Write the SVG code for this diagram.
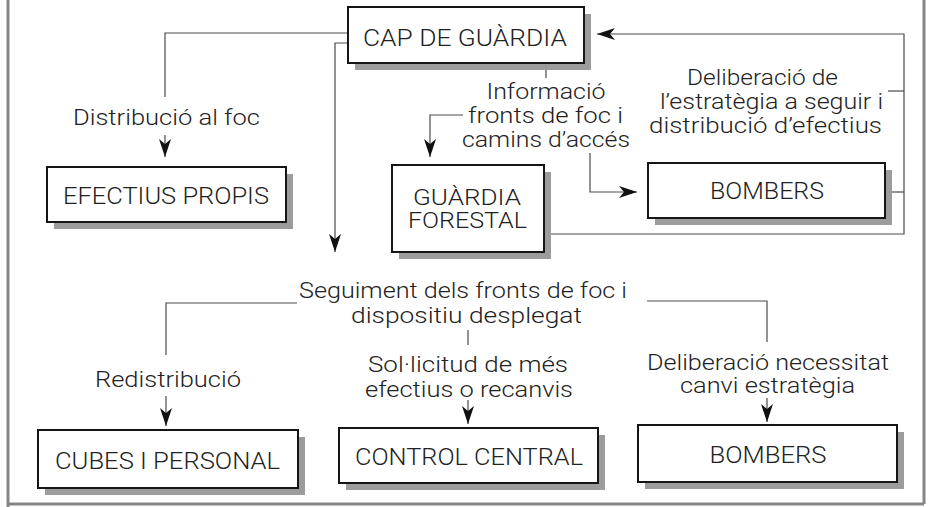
<svg xmlns="http://www.w3.org/2000/svg" width="933" height="507" viewBox="0 0 933 507">
<defs>
<style>
.frame{fill:none;stroke:#858585;stroke-width:3}
.shadow{fill:#9c9c9c}
.box{fill:#fff;stroke:#151515;stroke-width:2}
.bt{font-family:Roboto,"Liberation Sans",Arial,sans-serif;font-weight:300;font-size:23px;fill:#222;text-anchor:middle}
.lt{font-family:Roboto,"Liberation Sans",Arial,sans-serif;font-weight:300;font-size:22px;fill:#222;text-anchor:middle}
.ln{fill:none;stroke:#4a4a4a;stroke-width:1.2}
</style>
<marker id="ah" viewBox="0 0 18 12" refX="18" refY="6" markerWidth="18" markerHeight="12" markerUnits="userSpaceOnUse" orient="auto">
<path d="M0,0 L18,6 L0,12 L5,6 Z" fill="#111"/>
</marker>
</defs>
<rect width="933" height="507" fill="#fff"/>
<path class="frame" d="M8,0 V507 M924,0 V504 M8,504 H924"/>

<g id="connectors">
<path class="ln" d="M348,33 H165 V97"/>
<path class="ln" d="M165,135 V157" marker-end="url(#ah)"/>
<path class="ln" d="M348,43 H335 V252" marker-end="url(#ah)"/>
<path class="ln" d="M546,64 V78"/>
<path class="ln" d="M463,115 H430 V157" marker-end="url(#ah)"/>
<path class="ln" d="M590,153 V192 H637" marker-end="url(#ah)"/>
<path class="ln" d="M544,234 H904 V34 H597" marker-end="url(#ah)"/>
<path class="ln" d="M885,192 H904"/>
<path class="ln" d="M888,91 H904"/>
<path class="ln" d="M297,303 H166 V355"/>
<path class="ln" d="M166,396 V426" marker-end="url(#ah)"/>
<path class="ln" d="M468,330 V345"/>
<path class="ln" d="M468,400 V424" marker-end="url(#ah)"/>
<path class="ln" d="M647,301 H767 V342"/>
<path class="ln" d="M767,398 V422" marker-end="url(#ah)"/>
</g>

<g id="labels">
<text class="lt" x="166.5" y="125" textLength="187" lengthAdjust="spacingAndGlyphs">Distribució al foc</text>
<text class="lt" x="546" y="99" textLength="119" lengthAdjust="spacingAndGlyphs">Informació</text>
<text class="lt" x="545.5" y="123" textLength="155" lengthAdjust="spacingAndGlyphs">fronts de foc i</text>
<text class="lt" x="546" y="147" textLength="168" lengthAdjust="spacingAndGlyphs">camins d’accés</text>
<text class="lt" x="762.5" y="85" textLength="151" lengthAdjust="spacingAndGlyphs">Deliberació de</text>
<text class="lt" x="771.5" y="109" textLength="223" lengthAdjust="spacingAndGlyphs">l’estratègia a seguir i</text>
<text class="lt" x="765.5" y="133" textLength="233" lengthAdjust="spacingAndGlyphs">distribució d’efectius</text>
<text class="lt" x="463" y="298" textLength="328" lengthAdjust="spacingAndGlyphs">Seguiment dels fronts de foc i</text>
<text class="lt" x="466.5" y="323" textLength="231" lengthAdjust="spacingAndGlyphs">dispositiu desplegat</text>
<text class="lt" x="168" y="387" textLength="146" lengthAdjust="spacingAndGlyphs">Redistribució</text>
<text class="lt" x="468" y="372" textLength="200" lengthAdjust="spacingAndGlyphs">Sol·licitud de més</text>
<text class="lt" x="469" y="397" textLength="208" lengthAdjust="spacingAndGlyphs">efectius o recanvis</text>
<text class="lt" x="768" y="370" textLength="242" lengthAdjust="spacingAndGlyphs">Deliberació necessitat</text>
<text class="lt" x="767.5" y="393" textLength="175" lengthAdjust="spacingAndGlyphs">canvi estratègia</text>
</g>

<g id="cap-de-guardia">
<rect class="shadow" x="355" y="14" width="236" height="56"/>
<rect class="box" x="348" y="7" width="236" height="56"/>
<text class="bt" x="465" y="46" textLength="204" lengthAdjust="spacingAndGlyphs">CAP DE GUÀRDIA</text>
</g>
<g id="efectius-propis">
<rect class="shadow" x="54" y="174" width="239" height="55"/>
<rect class="box" x="47" y="167" width="239" height="55"/>
<text class="bt" x="166" y="204" textLength="206" lengthAdjust="spacingAndGlyphs">EFECTIUS PROPIS</text>
</g>
<g id="guardia-forestal">
<rect class="shadow" x="399" y="172" width="152" height="87"/>
<rect class="box" x="392" y="165" width="152" height="87"/>
<text class="bt" x="467" y="205" style="font-size:22px" textLength="108" lengthAdjust="spacingAndGlyphs">GUÀRDIA</text>
<text class="bt" x="467.5" y="228" style="font-size:22px" textLength="119" lengthAdjust="spacingAndGlyphs">FORESTAL</text>
</g>
<g id="bombers-top">
<rect class="shadow" x="655" y="170" width="237" height="55"/>
<rect class="box" x="648" y="163" width="237" height="55"/>
<text class="bt" x="767" y="199" textLength="114" lengthAdjust="spacingAndGlyphs">BOMBERS</text>
</g>
<g id="cubes-i-personal">
<rect class="shadow" x="45" y="437" width="260" height="58"/>
<rect class="box" x="38" y="430" width="260" height="58"/>
<text class="bt" x="167.5" y="469" textLength="225" lengthAdjust="spacingAndGlyphs">CUBES I PERSONAL</text>
</g>
<g id="control-central">
<rect class="shadow" x="346" y="435" width="259" height="55"/>
<rect class="box" x="339" y="428" width="259" height="55"/>
<text class="bt" x="469" y="465" textLength="228" lengthAdjust="spacingAndGlyphs">CONTROL CENTRAL</text>
</g>
<g id="bombers-bottom">
<rect class="shadow" x="645" y="432" width="259" height="57"/>
<rect class="box" x="638" y="425" width="259" height="57"/>
<text class="bt" x="768" y="463" textLength="117" lengthAdjust="spacingAndGlyphs">BOMBERS</text>
</g>
</svg>
